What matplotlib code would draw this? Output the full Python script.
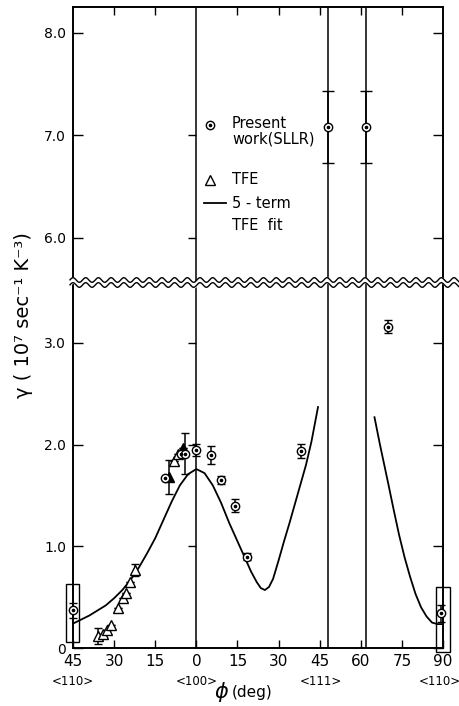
import numpy as np
import matplotlib
matplotlib.use("Agg")
import matplotlib.pyplot as plt
from matplotlib.patches import Rectangle

plt.rcParams['font.family'] = ['DejaVu Sans']

# ---------------- data ----------------
# Present work (SLLR), lower panel
sllr_x = [-45.0, -11.6, -5.6, -4.2, -0.2, 5.5, 8.9, 14.2, 18.6, 38.3, 70.0, 89.4]
sllr_y = [0.37, 1.67, 1.91, 1.91, 1.95, 1.90, 1.65, 1.40, 0.90, 1.94, 3.16, 0.34]
sllr_err = [0.07, 0.0, 0.0, 0.20, 0.06, 0.09, 0.04, 0.065, 0.03, 0.07, 0.065, 0.08]
# Present work (SLLR), upper panel
sllr_up_x = [48.0, 62.0]
sllr_up_y = [7.08, 7.08]
sllr_up_err = [0.35, 0.35]
# TFE data (open triangles)
tfe_x = [-35.9, -34.1, -32.5, -31.0, -28.6, -26.8, -25.5, -24.3, -22.5, -8.1, -6.7]
tfe_y = [0.12, 0.14, 0.18, 0.23, 0.39, 0.49, 0.54, 0.65, 0.77, 1.84, 1.91]
tfe_err = [0.08, 0, 0, 0, 0, 0, 0, 0, 0.06, 0, 0]
# TFE data (filled triangles)
tfe_f_x = [-10.0, -4.9]
tfe_f_y = [1.68, 1.97]
tfe_f_err = [0.17, 0.0]
# 5-term TFE fit, central branch
fit1_x = [-45, -42, -39, -36, -33, -30, -27, -24, -21, -18, -15, -12, -9, -6, -3, 0,
          3, 6, 9, 12, 15, 18, 20, 22, 23.5, 25, 26.5, 28, 30, 32, 34, 36, 38, 40, 42, 44.4]
fit1_y = [0.24, 0.28, 0.32, 0.37, 0.42, 0.49, 0.57, 0.67, 0.79, 0.93, 1.08, 1.26, 1.44, 1.60, 1.71, 1.76,
          1.72, 1.60, 1.43, 1.23, 1.05, 0.87, 0.75, 0.65, 0.59, 0.57, 0.60, 0.68, 0.86, 1.05, 1.23, 1.42,
          1.61, 1.80, 2.03, 2.37]
# 5-term TFE fit, right branch
fit2_x = [65, 67, 70, 72, 74, 76, 78, 80, 82, 84, 86, 88, 90]
fit2_y = [2.27, 2.00, 1.62, 1.36, 1.11, 0.89, 0.70, 0.53, 0.40, 0.31, 0.25, 0.235, 0.235]
# reference vertical lines (deg)
vlines_x = [0.0, 48.0, 62.0]
# boxes around <110> points: (x0, x1, y0, y1)
box_left = (-47.4, -42.7, 0.06, 0.63)
box_right = (87.6, 92.4, -0.04, 0.60)
# ticks
x_ticks = [-45, -30, -15, 0, 15, 30, 45, 60, 75, 90]
x_ticklabels = ['45', '30', '15', '0', '15', '30', '45', '60', '75', '90']
x_top_ticks = [-30, -15, 15, 30, 45, 60, 75]
y_low_ticks = [0, 1, 2, 3]
y_low_labels = ['0', '1.0', '2.0', '3.0']
y_up_ticks = [6, 7, 8]
y_up_labels = ['6.0', '7.0', '8.0']
dir_labels = ['<110>', '<100>', '<111>', '<110>']
dir_pos = [-45, 0, 45.6, 89]

W, H = 460, 706
fig = plt.figure(figsize=(W / 100, H / 100), dpi=100)

def fx(px):
    return px / W

def fy(py):
    return 1 - py / H

L, R = 73, 443
TOP, BRK, BOT = 7, 282, 648
ax_u = fig.add_axes([fx(L), fy(BRK), fx(R) - fx(L), fy(TOP) - fy(BRK)])
ax_l = fig.add_axes([fx(L), fy(BOT), fx(R) - fx(L), fy(BRK) - fy(BOT)])

lw_sp = 1.4
for ax in (ax_u, ax_l):
    ax.set_xlim(-45, 90)
    for s in ax.spines.values():
        s.set_linewidth(lw_sp)
    for xv in vlines_x:
        ax.axvline(xv, color='k', lw=1.1, zorder=1)

ax_u.set_ylim(5.57, 8.25)
ax_l.set_ylim(0, 3.6)
ax_u.spines['bottom'].set_visible(False)
ax_l.spines['top'].set_visible(False)

# upper axes ticks
ax_u.set_xticks(x_top_ticks)
ax_u.tick_params(axis='x', top=True, bottom=False, labelbottom=False, direction='in', length=6, width=1)
ax_u.set_yticks(y_up_ticks)
ax_u.set_yticklabels(y_up_labels)
ax_u.tick_params(axis='y', left=True, right=True, direction='in', length=7, width=1, labelsize=10, pad=5)

# lower axes ticks
ax_l.set_xticks(x_ticks)
ax_l.set_xticklabels(x_ticklabels)
ax_l.tick_params(axis='x', direction='in', length=6, width=1, labelsize=11, pad=4)
ax_l.set_yticks(y_low_ticks)
ax_l.set_yticklabels(y_low_labels)
ax_l.tick_params(axis='y', left=True, right=True, direction='in', length=7, width=1, labelsize=10, pad=5)

# ticks on the <100> line
ax_u.plot([0] * 2, y_up_ticks[:2], ls='none', marker=0, ms=6, mew=1, color='k', zorder=2)
ax_l.plot([0] * 3, y_low_ticks[1:], ls='none', marker=0, ms=6, mew=1, color='k', zorder=2)

# fit curves
ax_l.plot(fit1_x, fit1_y, color='k', lw=1.3, zorder=3)
ax_l.plot(fit2_x, fit2_y, color='k', lw=1.3, zorder=3)

# data
def sllr(ax, x, y, e, cap):
    ax.errorbar(x, y, yerr=e, fmt='o', ms=6, mfc='white', mec='k', mew=1.0,
                ecolor='k', elinewidth=1.1, capsize=cap, capthick=1.1, zorder=5, clip_on=False)
    ax.plot(x, y, ls='none', marker='o', ms=1.6, color='k', zorder=6, clip_on=False)

sllr(ax_l, sllr_x, sllr_y, sllr_err, 3)
sllr(ax_u, sllr_up_x, sllr_up_y, sllr_up_err, 4)

ax_l.errorbar(tfe_x, tfe_y, yerr=tfe_err, fmt='^', ms=6.5, mfc='white', mec='k', mew=1.0,
              ecolor='k', elinewidth=1.1, capsize=3, capthick=1.1, zorder=4)
ax_l.errorbar(tfe_f_x, tfe_f_y, yerr=tfe_f_err, fmt='^', ms=6.5, mfc='k', mec='k', mew=1.0,
              ecolor='k', elinewidth=1.1, capsize=3, capthick=1.1, zorder=4)

for (x0, x1, y0, y1) in (box_left, box_right):
    ax_l.add_patch(Rectangle((x0, y0), x1 - x0, y1 - y0, fill=False, ec='k', lw=1.0,
                             clip_on=False, zorder=6))

# direction labels
for lab, xp in zip(dir_labels, dir_pos):
    ax_l.text(xp, -0.092, lab, transform=ax_l.get_xaxis_transform(), ha='center', va='center',
              fontsize=8.5)

# axis labels
fig.text(fx(24), fy(315), 'γ ( 10⁷ sec⁻¹ K⁻³)', rotation=90, ha='center', va='center', fontsize=14)
fig.text(fx(222), fy(692), r'$\phi$', ha='center', va='center', fontsize=15)
fig.text(fx(252), fy(692), '(deg)', ha='center', va='center', fontsize=11)

# legend (manual)
ov = fig.add_axes([0, 0, 1, 1])
ov.set_xlim(0, W)
ov.set_ylim(H, 0)
ov.axis('off')
ov.plot([210], [125], marker='o', ms=6, mfc='white', mec='k', mew=1.0)
ov.plot([210], [125], marker='o', ms=1.6, color='k')
ov.plot([210], [180], marker='^', ms=6.5, mfc='white', mec='k', mew=1.0)
ov.plot([204, 226], [203, 203], color='k', lw=1.3)
for txt, yy in [('Present', 124), ('work(SLLR)', 139), ('TFE', 180), ('5 - term', 203), ('TFE  fit', 225)]:
    ov.text(232, yy, txt, ha='left', va='center', fontsize=10.5)

# axis break (wavy double line)
xs = np.linspace(70, 460, 600)
yt = 280 + 2.3 * np.sin(2 * np.pi * xs / 12.7)
yb = yt + 5
ov.fill_between(xs, yt, yb, color='white', zorder=8)
ov.plot(xs, yt, color='k', lw=1.0, zorder=9)
ov.plot(xs, yb, color='k', lw=1.0, zorder=9)

fig.savefig('out.png', dpi=100)
